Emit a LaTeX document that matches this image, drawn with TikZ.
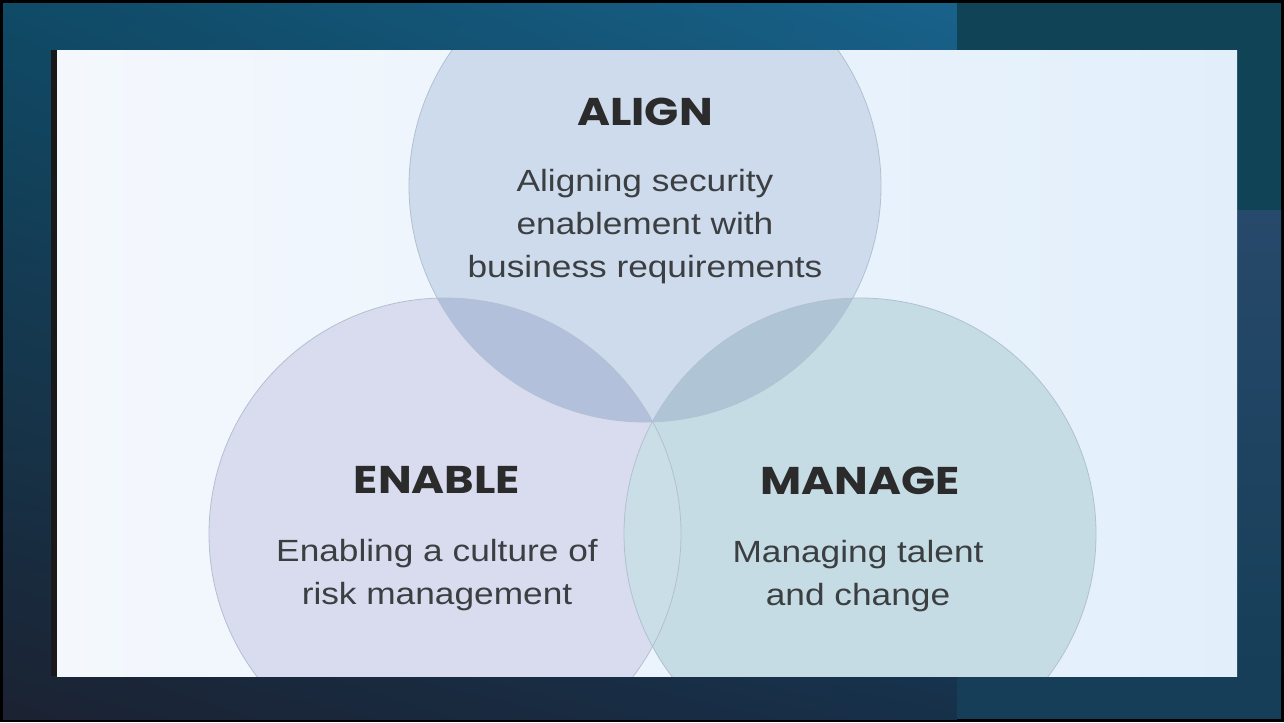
\documentclass[tikz,border=0pt]{standalone}
\usepackage{fontspec}
\usetikzlibrary{shadings}
\setmainfont{Liberation Sans}
\newfontfamily\headfont{Poppins}[FakeStretch=1.16]
\newfontfamily\bodyfont{Liberation Sans}[FakeStretch=1.15]
\definecolor{frametl}{HTML}{0F4A66}
\definecolor{frametr}{HTML}{18628A}
\definecolor{framebl}{HTML}{1B2232}
\definecolor{framebr}{HTML}{17304A}
\definecolor{stripdark}{HTML}{114356}
\definecolor{stripmid}{HTML}{27496B}
\definecolor{striplow}{HTML}{163E58}
\definecolor{panell}{HTML}{F4F8FD}
\definecolor{panelr}{HTML}{E2EFFB}
\definecolor{alignfill}{HTML}{CEDBEC}
\definecolor{enablefill}{HTML}{D8DCEE}
\definecolor{managefill}{HTML}{C6DCE5}
\definecolor{aelens}{HTML}{B3C0DC}
\definecolor{amlens}{HTML}{AFC5D6}
\definecolor{emlens}{HTML}{CADEE7}
\definecolor{ringline}{HTML}{B2C0D0}
\definecolor{headgray}{HTML}{2B2B2B}
\definecolor{bodygray}{HTML}{3C3F42}
\tikzset{
  ring/.style={draw=ringline, line width=0.6pt},
  head/.style={font=\headfont\bfseries\fontsize{29}{34}\selectfont, text=headgray, anchor=base, inner sep=0pt},
  body/.style={font=\bodyfont\fontsize{23}{32.25}\selectfont, text=bodygray, align=center, anchor=base, inner sep=0pt},
}
\begin{document}
\begin{tikzpicture}[x=0.75pt,y=-0.75pt]
    \useasboundingbox (0,0) rectangle (1284,722);
    % frame
    \fill[black] (0,0) rectangle (1284,722);
    \shade[upper left=frametl, upper right=frametr, lower left=framebl, lower right=framebr] (3,3) rectangle (957,719);
    \fill[stripdark] (957,3) rectangle (1281,210);
    \shade[top color=stripmid, bottom color=striplow] (1237,210) rectangle (1281,676);
    \fill[striplow] (957,676) rectangle (1281,719);
    \fill[black!90] (51,50) rectangle (57,676);
    \shade[left color=panell, right color=panelr] (57,50) rectangle (1237,676);
    \coordinate (alignC) at (645,186);
    \coordinate (enableC) at (445,534);
    \coordinate (manageC) at (860,534);
    \begin{scope}
        \clip (57,50) rectangle (1237,676);
        \fill[enablefill] (enableC) circle (236);
        \fill[managefill] (manageC) circle (236);
        \fill[alignfill] (alignC) circle (236);
        \begin{scope}
            \clip (alignC) circle (236);
            \fill[aelens] (enableC) circle (236);
            \fill[amlens] (manageC) circle (236);
        \end{scope}
        \begin{scope}
            \clip (enableC) circle (236);
            \fill[emlens] (manageC) circle (236);
        \end{scope}
        \draw[ring] (enableC) circle (236);
        \draw[ring] (manageC) circle (236);
        \draw[ring] (alignC) circle (236);
    \end{scope}
    % labels (body nodes sit on their last line)
    \node[head] (alignHead) at (645,125) {ALIGN};
    \node[body] (alignText) at (645,277) {Aligning security\\enablement with\\business requirements};
    \node[head] (enableHead) at (437,493) {ENABLE};
    \node[body] (enableText) at (437,604) {Enabling a culture of\\risk management};
    \node[head] (manageHead) at (860,494) {MANAGE};
    \node[body] (manageText) at (858,605) {Managing talent\\and change};
\end{tikzpicture}
\end{document}
